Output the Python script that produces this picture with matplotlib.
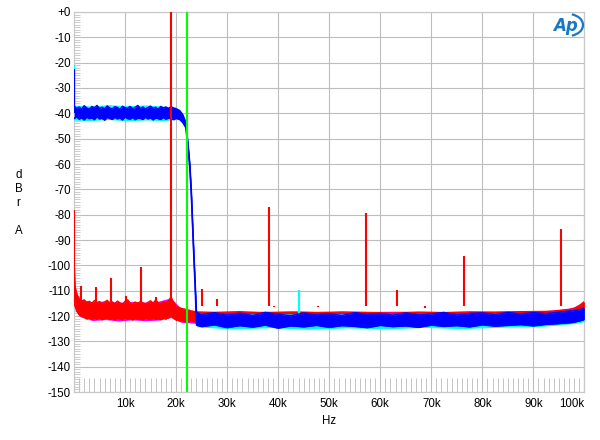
import matplotlib
matplotlib.use("Agg")
import matplotlib.pyplot as plt
from matplotlib.ticker import MultipleLocator
from matplotlib.patches import Arc

plt.rcParams['font.family'] = ['Liberation Sans', 'DejaVu Sans']

# ---------------- data (frequency in kHz, level in dBr A) ----------------
x_ticks = [10, 20, 30, 40, 50, 60, 70, 80, 90, 100]
x_tick_labels = ['10k', '20k', '30k', '40k', '50k', '60k', '70k', '80k', '90k', '100k']
y_ticks = [0, -10, -20, -30, -40, -50, -60, -70, -80, -90, -100, -110, -120, -130, -140, -150]
y_tick_labels = ['+0', '-10', '-20', '-30', '-40', '-50', '-60', '-70', '-80', '-90',
                 '-100', '-110', '-120', '-130', '-140', '-150']

# blue trace (noise band: lower / upper envelope)
blue_f = [0.05, 0.5, 1.0, 1.5, 2.0, 2.5, 3.0, 3.5, 4.0, 4.5, 5.0, 5.5, 6.0, 6.5, 7.0, 7.5, 8.0,
          8.5, 9.0, 9.5, 10.0, 10.5, 11.0, 11.5, 12.0, 12.5, 13.0, 13.5, 14.0, 14.5, 15.0, 15.5,
          16.0, 16.5, 17.0, 17.5, 18.0, 18.5, 19.0, 19.5, 20.0,
          20.7, 21.3, 21.9, 22.3, 22.7, 23.0, 23.4, 23.7, 24.0,
          25.0, 27.5, 30.0, 32.5, 35.0, 37.5, 40.0, 42.5, 45.0, 47.5, 50.0, 52.5, 55.0, 57.5,
          60.0, 62.5, 65.0, 67.5, 70.0, 72.5, 75.0, 77.5, 80.0, 82.5, 85.0, 87.5, 90.0, 92.5,
          95.0, 97.5, 99.0, 100.0]
blue_hi = [-37.2, -38.0, -37.5, -38.3, -37.0, -37.9, -38.4, -37.3, -37.8, -36.9, -38.1, -37.6,
           -38.2, -37.1, -37.9, -38.3, -37.4, -37.7, -38.5, -37.2, -37.8, -38.0, -37.3, -38.2,
           -37.6, -36.9, -38.1, -37.5, -38.3, -37.7, -37.2, -38.0, -37.6, -38.4, -37.3, -37.9,
           -37.5, -38.1, -37.4, -37.9, -38.2,
           -38.9, -40.5, -43.5, -51.0, -60.0, -71.0, -91.0, -105.0, -118.6,
           -119.4, -118.7, -119.6, -118.9, -119.8, -118.6, -119.3, -119.9, -118.8, -119.5,
           -119.1, -119.8, -118.7, -119.4, -119.0, -119.7, -118.8, -119.5, -119.2, -118.6,
           -119.6, -119.0, -118.8, -119.4, -118.6, -119.2, -118.7, -119.1, -118.5, -118.0,
           -117.6, -116.8]
blue_lo = [-42.0, -41.4, -42.3, -41.7, -42.6, -41.5, -42.1, -41.8, -42.5, -41.3, -42.2, -41.9,
           -42.7, -41.6, -42.0, -42.4, -41.5, -42.2, -41.8, -42.6, -41.4, -42.1, -42.3, -41.6,
           -42.5, -41.9, -42.0, -42.4, -41.5, -42.2, -41.7, -42.6, -41.8, -42.1, -42.4, -41.6,
           -42.3, -41.9, -42.0, -42.5, -42.0,
           -42.4, -43.6, -45.6, -53.0, -62.0, -73.0, -93.0, -107.0, -123.6,
           -124.2, -123.5, -124.6, -123.8, -124.4, -123.6, -124.8, -123.9, -124.3, -123.7,
           -124.5, -123.8, -124.1, -124.6, -123.7, -124.2, -123.9, -124.5, -123.6, -124.1,
           -123.8, -124.3, -123.5, -124.0, -123.7, -123.4, -123.9, -123.3, -123.0, -122.6,
           -122.0, -121.4]

# cyan trace (mostly hidden beneath the blue)
cyan_f = [0.05, 3.2, 6.8, 10.3, 14.1, 17.6, 20.0, 20.7, 21.3, 21.9, 22.3, 22.7, 23.0, 23.4,
          23.7, 24.0, 31.0, 38.5, 46.0, 53.5, 61.0, 68.5, 76.0, 83.5, 91.0, 98.0, 100.0]
cyan_lo = [-42.7, -42.9, -42.4, -43.0, -42.6, -42.9, -42.4, -42.6, -43.8, -45.8, -53.3, -62.3,
           -73.3, -93.3, -107.3, -124.2, -125.2, -124.6, -125.3, -124.7, -125.1, -124.5, -125.0,
           -124.4, -124.2, -123.0, -122.2]
cyan_hi = [-36.8, -37.1, -36.6, -37.0, -36.7, -37.2, -37.6, -38.7, -40.3, -43.3, -50.8, -59.8,
           -70.8, -90.8, -104.8, -118.8, -119.3, -118.9, -119.4, -119.0, -119.3, -118.9, -119.2,
           -118.8, -118.9, -117.8, -117.0]

# red trace noise band
red_f = [0.05, 0.2, 0.5, 1, 1.5, 2, 2.5, 3, 3.5, 4, 4.5, 5, 5.5, 6, 6.5, 7, 7.5, 8, 8.5, 9, 9.5, 10,
         10.5, 11, 11.5, 12, 12.5, 13, 13.5, 14, 14.5, 15, 15.5, 16, 16.5, 17, 17.5, 18, 18.6,
         19.0, 19.4, 20, 21, 22, 23, 24, 27.5, 32.5, 37.5, 42.5, 47.5, 52.5, 57.5, 62.5, 67.5,
         72.5, 77.5, 82.5, 87.5, 92.5, 95, 97, 98, 99, 100]
red_lo = [-112.0, -116.0, -118.0, -119.5, -120.2, -120.6, -121.2, -120.7, -121.4, -120.9, -121.3,
          -120.8, -121.5, -121.0, -120.7, -121.4, -121.0, -121.6, -120.9, -121.2, -121.5, -120.8,
          -121.3, -121.0, -121.6, -120.9, -121.3, -121.1, -121.5, -120.8, -121.2, -121.4, -120.9,
          -121.3, -121.0, -121.5, -120.9, -121.2, -120.6, -119.8, -120.8, -121.6, -122.0,
          -122.3, -122.0, -122.4, -122.0, -122.2, -122.0, -122.3, -122.1, -122.2, -122.0,
          -122.3, -122.1, -122.0, -121.9, -121.8, -121.7, -121.5, -121.3, -121.0, -120.6,
          -119.8, -119.0]
red_hi = [-100.0, -108.0, -111.5, -113.0, -114.2, -113.6, -114.8, -114.2, -115.0, -113.9, -114.7,
          -114.3, -115.1, -114.5, -113.8, -114.9, -114.4, -115.2, -114.1, -114.8, -115.3, -114.2,
          -113.6, -114.9, -115.2, -114.5, -115.0, -114.3, -114.8, -115.3, -114.6, -114.0, -114.9,
          -113.7, -114.8, -115.1, -114.4, -114.7, -113.8, -112.5, -114.2, -116.0, -117.0,
          -117.4, -118.0, -118.4, -118.6, -118.3, -118.8, -118.5, -118.7, -118.4, -118.6,
          -118.9, -118.5, -118.7, -118.4, -118.6, -118.3, -118.2, -117.9, -117.5, -116.9,
          -115.9, -114.3]

# magenta trace (mostly hidden beneath the red)
mag_f = [0.2, 1, 3.6, 6.2, 8.8, 11.4, 14.0, 16.6, 19.0, 21.0, 24.0, 33.0, 43.0, 53.0, 63.0,
         73.0, 83.0, 93.0, 98.0, 100.0]
mag_lo = [-116.5, -120.0, -121.8, -121.4, -122.0, -121.5, -121.9, -121.6, -120.6, -122.5,
          -122.9, -122.6, -123.0, -122.7, -122.9, -122.6, -122.5, -122.2, -121.2, -119.6]
mag_hi = [-108.3, -113.3, -114.4, -114.0, -114.6, -114.2, -114.5, -114.1, -112.8, -117.2,
          -118.2, -118.2, -118.0, -118.3, -118.1, -118.2, -118.0, -117.8, -116.6, -114.0]

# discrete spectral lines
red_spike_f = [0.02, 1.4, 4.4, 7.2, 10.2, 13.1, 16.1, 19.1, 25.0, 28.0, 38.2, 39.2, 47.9,
               57.3, 63.2, 68.8, 76.4, 95.5]
red_spike_db = [-78.0, -108.0, -108.7, -105.0, -112.0, -100.8, -112.5, 0.0, -109.5, -113.3,
                -77.1, -116.3, -116.5, -79.5, -109.7, -117.0, -96.3, -85.7]
red_spike_base = -116.0
cyan_spike_f = [0.02, 44.1]
cyan_spike_db = [-21.0, -109.7]
cyan_spike_base = [-40.0, -121.0]
blue_spike_f = [0.02]
blue_spike_db = [-22.5]
blue_spike_base = [-40.0]

nyquist_f = 22.05   # green marker line

# ---------------- figure ----------------
fig = plt.figure(figsize=(6.0, 4.4), dpi=100)
ax = fig.add_axes([74 / 600, 48 / 440, 510.4 / 600, 380 / 440])
ax.set_xlim(0, 100)
ax.set_ylim(-150, 0)

grid_c = '#bdbdbd'
for s in ax.spines.values():
    s.set_color('#c8c8c8')
    s.set_linewidth(0.9)

ax.set_xticks(x_ticks)
ax.set_xticklabels(x_tick_labels)
ax.set_yticks(y_ticks)
ax.set_yticklabels(y_tick_labels)
ax.xaxis.set_minor_locator(MultipleLocator(1))
ax.yaxis.set_minor_locator(MultipleLocator(1))
ax.tick_params(which='major', length=0, labelsize=8.3, colors='black')
ax.tick_params(axis='x', which='major', pad=4.2)
ax.tick_params(axis='y', which='major', pad=2.2)
ax.tick_params(axis='x', which='minor', direction='in', length=10, width=0.7, color='#c4c4c4')
ax.tick_params(axis='y', which='minor', direction='in', length=4.3, width=0.6, color='#c4c4c4')
ax.xaxis.get_majorticklabels()[-1].set_horizontalalignment('right')
ax.grid(True, which='major', color=grid_c, linewidth=0.8)
ax.set_axisbelow(True)

# traces
ax.fill_between(mag_f, mag_lo, mag_hi, color='#ff00ff', lw=0, zorder=2)
ax.fill_between(red_f, red_lo, red_hi, color='#ff0000', lw=0, zorder=3)
ax.plot(red_f, red_hi, color='#ff0000', lw=1.0, zorder=3)
ax.plot(red_f, red_lo, color='#ff0000', lw=1.0, zorder=3)

ax.fill_between(cyan_f, cyan_lo, cyan_hi, color='#00ffff', lw=0, zorder=4)

ax.fill_between(blue_f, blue_lo, blue_hi, color='#0000ff', lw=0, zorder=5)
ax.plot(blue_f, blue_hi, color='#0000ff', lw=1.1, zorder=5)
ax.plot(blue_f, blue_lo, color='#0000ff', lw=1.1, zorder=5)

ax.vlines(cyan_spike_f, cyan_spike_base, cyan_spike_db, color='#00ffff', lw=1.6, zorder=4)
ax.vlines(blue_spike_f, blue_spike_base, blue_spike_db, color='#0000ff', lw=1.6, zorder=5)
ax.vlines(red_spike_f, red_spike_base, red_spike_db, color='#ff0000', lw=1.5, zorder=6)
ax.axvline(nyquist_f, color='#00ff00', lw=1.5, zorder=7)

# axis labels
fig.text(329 / 600, 1 - 421 / 440, 'Hz', ha='center', va='center', fontsize=8.3)
fig.text(18.5 / 600, 1 - 203 / 440, 'd\nB\nr\n\nA', ha='center', va='center',
         fontsize=8.3, linespacing=1.22)

# Ap logo
lax = fig.add_axes([550 / 600, 1 - 38 / 440, 36 / 600, 26 / 440])
lax.set_xlim(0, 36)
lax.set_ylim(0, 26)
lax.axis('off')
logo_c = '#1a78c2'
lax.text(15, 12.5, 'Ap', color=logo_c, fontsize=12, style='italic', weight='bold',
         ha='center', va='center', family='DejaVu Sans')
lax.add_patch(Arc((18, 13), 30, 22, theta1=-70, theta2=70, color=logo_c, lw=1.6))

fig.savefig('out.png', dpi=100)
